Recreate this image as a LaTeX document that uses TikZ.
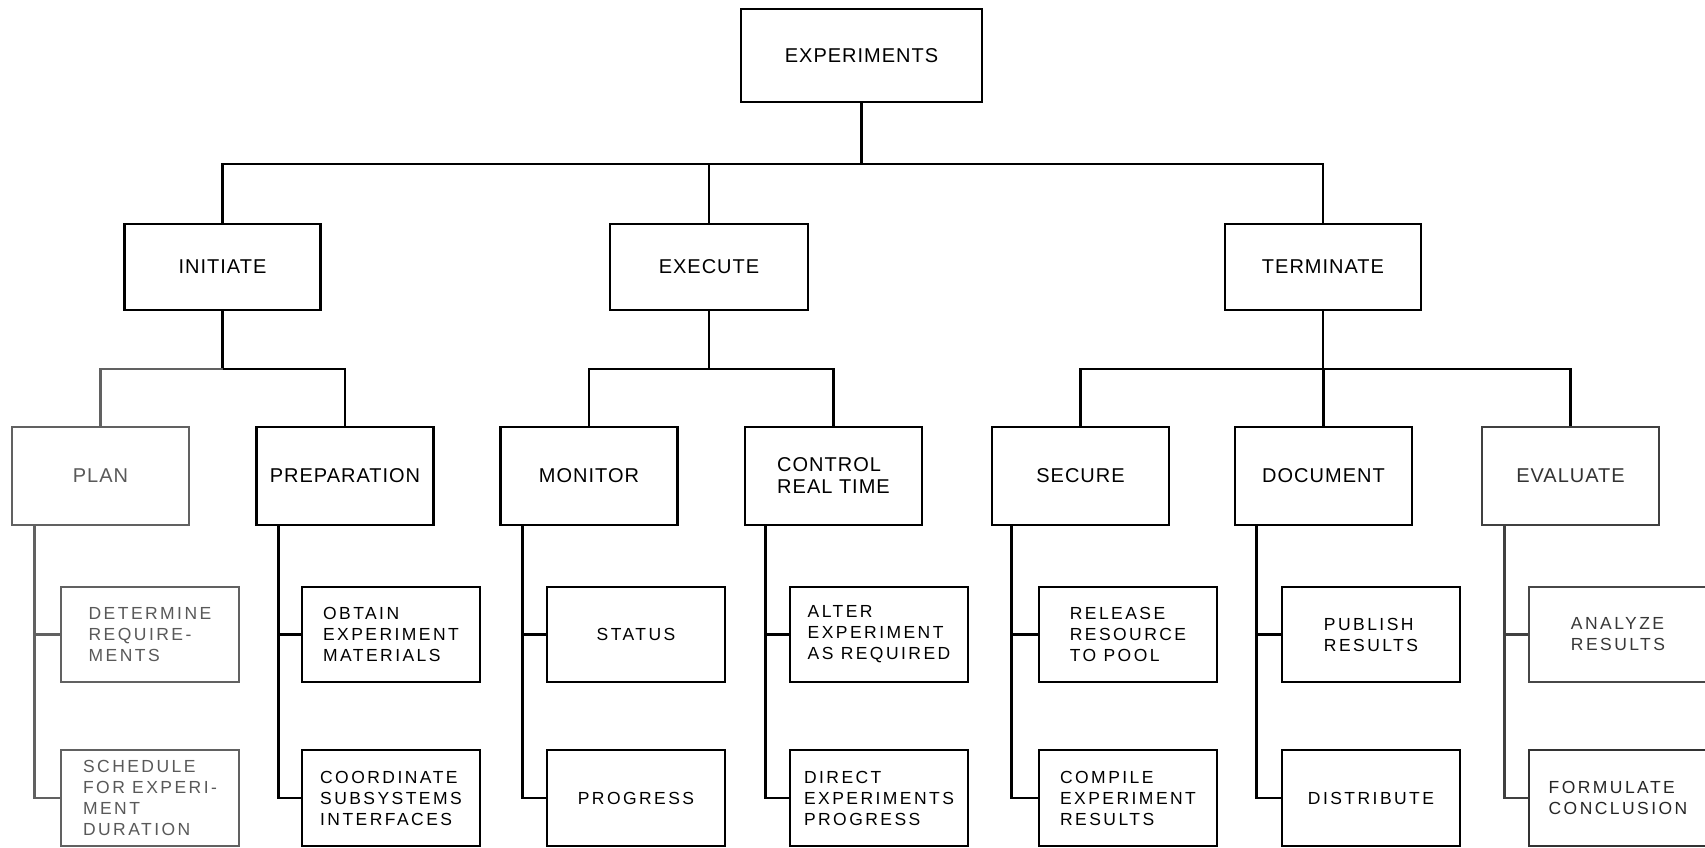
\documentclass[tikz,border=0pt]{standalone}
\usepackage{fontspec}
\setmainfont{Liberation Sans}
\newfontfamily\bigfont[LetterSpace=5]{Liberation Sans}
\newfontfamily\smallfont[LetterSpace=14]{Liberation Sans}
\begin{document}
\begin{tikzpicture}[x=1pt,y=-1pt]
\tikzset{
  box/.style={draw=black, line width=2.7pt, inner sep=0pt, align=left, text=black,
    font=\bigfont\fontsize{20}{22}\selectfont},
  gbox/.style={draw=black!62, text=black!65},
  top/.style={box, minimum width=241pt, minimum height=93pt},
  lvone/.style={box, minimum width=196pt, minimum height=86pt},
  lvtwo/.style={box, minimum width=177pt, minimum height=98pt},
  lvthree/.style={box, minimum width=178pt, minimum height=95pt,
    font=\smallfont\fontsize{17.5}{21}\selectfont},
  conn/.style={line width=2.9pt, draw=black},
  gconn/.style={conn, draw=black!62},
}
\useasboundingbox[fill=white] (0,0) rectangle (1705,848);

% level 0
\node[top] (exp) at (861.5,55.5) {EXPERIMENTS};

% level 1
\node[lvone] (init) at (222.5,267) {INITIATE};
\node[lvone, minimum width=198pt] (exec) at (709,267) {EXECUTE};
\node[lvone] (term) at (1323,267) {TERMINATE};

% level 2
\node[lvtwo, gbox] (plan) at (100.5,476) {PLAN};
\node[lvtwo] (prep) at (345,476) {PREPARATION};
\node[lvtwo] (mon) at (589,476) {MONITOR};
\node[lvtwo] (ctrl) at (833.5,476) {CONTROL\\REAL TIME};
\node[lvtwo] (sec) at (1080.5,476) {SECURE};
\node[lvtwo] (doc) at (1323.5,476) {DOCUMENT};
\node[lvtwo, draw=black!75, text=black!80] (eval) at (1570.5,476) {EVALUATE};

% level 3
\node[lvthree, gbox] (det) at (150,634.5) {DETERMINE\\REQUIRE-\\MENTS};
\node[lvthree, gbox, minimum height=96pt] (sched) at (150,798) {SCHEDULE\\FOR EXPERI-\\MENT\\DURATION};
\node[lvthree] (obt) at (391,634.5) {OBTAIN\\EXPERIMENT\\MATERIALS};
\node[lvthree, minimum height=96pt] (coord) at (391,798) {COORDINATE\\SUBSYSTEMS\\INTERFACES};
\node[lvthree] (stat) at (636,634.5) {STATUS};
\node[lvthree, minimum height=96pt] (prog) at (636,798) {PROGRESS};
\node[lvthree] (alter) at (879,634.5) {ALTER\\EXPERIMENT\\AS REQUIRED};
\node[lvthree, minimum height=96pt] (direct) at (879,798) {DIRECT\\EXPERIMENTS\\PROGRESS};
\node[lvthree] (rel) at (1128,634.5) {RELEASE\\RESOURCE\\TO POOL};
\node[lvthree, minimum height=96pt] (comp) at (1128,798) {COMPILE\\EXPERIMENT\\RESULTS};
\node[lvthree] (pub) at (1371,634.5) {PUBLISH\\RESULTS};
\node[lvthree, minimum height=96pt] (dist) at (1371,798) {DISTRIBUTE};
\node[lvthree, draw=black!72, text=black!78] (ana) at (1618,634.5) {ANALYZE\\RESULTS};
\node[lvthree, minimum height=96pt, draw=black!80, text=black!85] (form) at (1618,798) {FORMULATE\\CONCLUSION};

% connector levels
\coordinate (barA) at (0,164);
\coordinate (barB) at (0,369);

\draw[conn] (exp.south) -- (exp.south |- barA);
\draw[conn] (init.north) |- (term.north |- barA) -- (term.north);
\draw[conn] (exec.north) -- (exec.north |- barA);

\draw[conn] (init.south) -- (init.south |- barB);
\draw[gconn] (plan.north) |- (init.south |- barB);
\draw[conn] (init.south |- barB) -| (prep.north);

\draw[conn] (exec.south) -- (exec.south |- barB);
\draw[conn] (mon.north) |- (ctrl.north |- barB) -- (ctrl.north);

\draw[conn] (term.south) -- (term.south |- barB);
\draw[conn] (sec.north) |- (eval.north |- barB) -- (eval.north);
\draw[conn] (doc.north) -- (doc.north |- barB);

% level 2 -> level 3 stems
\draw[gconn] ([xshift=24pt]plan.south west) |- (sched.west);
\draw[gconn] (det.west) -- ++(-24,0);
\draw[conn] ([xshift=23pt]prep.south west) |- (coord.west);
\draw[conn] (obt.west) -- ++(-23,0);
\draw[conn] ([xshift=23pt]mon.south west) |- (prog.west);
\draw[conn] (stat.west) -- ++(-24,0);
\draw[conn] ([xshift=22pt]ctrl.south west) |- (direct.west);
\draw[conn] (alter.west) -- ++(-24,0);
\draw[conn] ([xshift=21pt]sec.south west) |- (comp.west);
\draw[conn] (rel.west) -- ++(-27,0);
\draw[conn] ([xshift=23pt]doc.south west) |- (dist.west);
\draw[conn] (pub.west) -- ++(-25,0);
\draw[conn, draw=black!75] ([xshift=24pt]eval.south west) |- (form.west);
\draw[conn, draw=black!75] (ana.west) -- ++(-24,0);
\end{tikzpicture}
\end{document}
